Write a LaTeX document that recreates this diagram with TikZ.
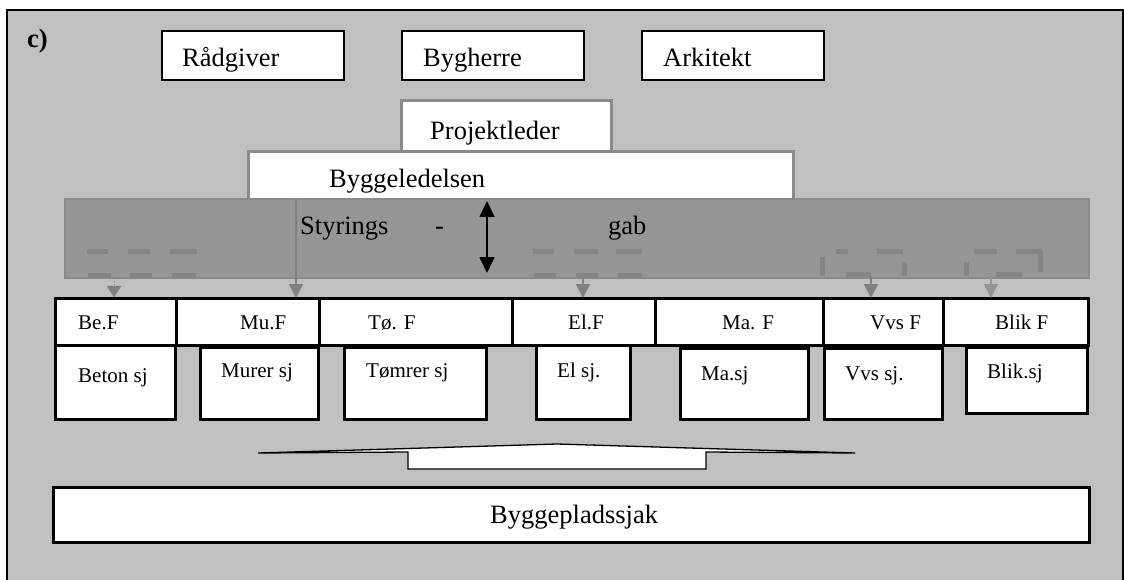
\documentclass[tikz,border=0pt]{standalone}
\usepackage{fontspec}
\setmainfont{Liberation Serif}
\usetikzlibrary{arrows.meta}
\definecolor{panel}{HTML}{C0C0C0}
\definecolor{gapfill}{HTML}{969696}
\definecolor{gapline}{HTML}{8A8A8A}
\definecolor{ghost}{HTML}{858585}
\definecolor{garrowc}{HTML}{808080}
\tikzset{
  big/.style={font=\fontsize{26.5}{30}\selectfont, inner sep=0pt, anchor=base west},
  small/.style={font=\fontsize{21}{24}\selectfont, inner sep=0pt, anchor=base west},
  tbox/.style={draw=black, line width=1.6pt, fill=white, inner sep=0pt, outer sep=0pt, anchor=north west},
  gbox/.style={draw=gapline, line width=3pt, fill=white, inner sep=0pt, outer sep=0pt, anchor=north west},
  fbox/.style={draw=black, line width=3pt, fill=white, inner sep=0pt, outer sep=0pt, anchor=north west},
  ghostdash/.style={draw=ghost, line width=5pt},
  garrow/.style={draw=garrowc, line width=1.5pt, -{Triangle[length=14pt,width=14pt]}},
}
\begin{document}
\begin{tikzpicture}[x=1pt,y=-1pt]
\useasboundingbox (0,0) rectangle (1124,580);
\clip (0,0) rectangle (1124,580);
% panel
\node[draw=black, line width=2pt, fill=panel, inner sep=0pt, outer sep=0pt, anchor=north west,
      minimum width=1116pt, minimum height=590pt] (panel) at (7,10) {};
\node[font=\fontsize{26.5}{30}\selectfont\bfseries, inner sep=0pt, anchor=base west] (lbl) at (27,48) {c)};
% top boxes
\node[tbox, minimum width=182pt, minimum height=49pt] (rad) at (162,31) {};
\node[big] (radt) at (182,67) {Rådgiver};
\node[tbox, minimum width=182pt, minimum height=49pt] (byg) at (402,31) {};
\node[big] (bygt) at (423,67) {Bygherre};
\node[tbox, minimum width=182pt, minimum height=49pt] (ark) at (642,31) {};
\node[big] (arkt) at (663,67) {Arkitekt};
% projektleder
\node[gbox, minimum width=210pt, minimum height=52pt] (pl) at (401,101) {};
\node[big] (plt) at (430,140) {Projektleder};
% byggeledelsen
\node[gbox, minimum width=545pt, minimum height=48pt] (bl) at (248,152) {};
\node[big] (blt) at (329,188) {Byggeledelsen};
% styrings-gab band
\node[draw=gapline, line width=2pt, fill=gapfill, inner sep=0pt, outer sep=0pt, anchor=north west,
      minimum width=1024pt, minimum height=79pt] (gap) at (65,199) {};
\node[big] (sty) at (300,234) {Styrings};
\node[big] (dash) at (435,234) {-};
\node[big] (gab) at (608,234) {gab};
% ghost dashes
\draw[ghostdash] (87,251)--(108,251) (128,251)--(150,251) (170,251)--(197,251);
\draw[ghostdash] (88,275)--(111,275) (130,275)--(152,275) (172,275)--(196,275);
\draw[ghostdash] (533,251)--(554,251) (574,251)--(598,251) (616,251)--(642,251);
\draw[ghostdash] (534,275)--(556,275) (576,275)--(598,275) (618,275)--(642,275);
\draw[ghostdash] (836,251)--(848,251) (877,251)--(903,251);
\draw[ghostdash] (822,257)--(822,276) (846,274)--(871,274) (904,262)--(904,276);
\draw[ghostdash] (974,251)--(997,251) (1016,251)--(1042,251);
\draw[ghostdash] (1040,251)--(1040,272) (966,262)--(966,276) (996,274)--(1022,274);
\draw[panel, line width=0pt, fill=panel] (65,279) rectangle (1090,296);
% double arrow
\coordinate (dat) at (487,201);
\coordinate (dab) at (487,273);
\draw[line width=1.8pt, {Triangle[length=16pt,width=15pt]}-{Triangle[length=16pt,width=15pt]}] (dat) -- (dab);
% F row
\node[fbox, minimum width=121pt, minimum height=47pt] (beF) at (55,298) {};
\node[fbox, minimum width=143pt, minimum height=47pt] (muF) at (176,298) {};
\node[fbox, minimum width=193pt, minimum height=47pt] (toF) at (319,298) {};
\node[fbox, minimum width=143pt, minimum height=47pt] (elF) at (512,298) {};
\node[fbox, minimum width=168pt, minimum height=47pt] (maF) at (655,298) {};
\node[fbox, minimum width=120pt, minimum height=47pt] (vvF) at (823,298) {};
\node[fbox, minimum width=145pt, minimum height=47pt] (blF) at (943,298) {};
\node[small] (beFt) at (78,329) {Be.F};
\node[small] (muFt) at (240,329) {Mu.F};
\node[small] (toFt) at (368,329) {Tø. F};
\node[small] (elFt) at (568,329) {El.F};
\node[small] (maFt) at (722,329) {Ma. F};
\node[small] (vvFt) at (870,329) {Vvs F};
\node[small] (blFt) at (995,329) {Blik F};
% sj row
\node[fbox, minimum width=120pt, minimum height=74pt] (besj) at (55,345) {};
\node[fbox, minimum width=118pt, minimum height=72pt] (musj) at (200,347) {};
\node[fbox, minimum width=142pt, minimum height=72pt] (tosj) at (344,347) {};
\node[fbox, minimum width=94pt, minimum height=74pt] (elsj) at (536,345) {};
\node[fbox, minimum width=128pt, minimum height=71pt] (masj) at (680,348) {};
\node[fbox, minimum width=118pt, minimum height=71pt] (vvsj) at (824,348) {};
\node[fbox, minimum width=121pt, minimum height=66pt] (blsj) at (966,347) {};
\node[small] (besjt) at (78,382) {Beton sj};
\node[small] (musjt) at (221,377) {Murer sj};
\node[small] (tosjt) at (366,377) {Tømrer sj};
\node[small] (elsjt) at (557,377) {El sj.};
\node[small] (masjt) at (701,380) {Ma.sj};
\node[small] (vvsjt) at (845,380) {Vvs sj.};
\node[small] (blsjt) at (987,378) {Blik.sj};
% redraw F row borders on top
\foreach \n in {beF,muF,toF,elF,maF,vvF,blF}{\draw[black, line width=3pt] (\n.north west) rectangle (\n.south east);}
% gray arrows
\coordinate (a1) at (114,278);
\coordinate (a2) at (296,199);
\coordinate (a3) at (583,278);
\coordinate (a4) at (871,276);
\coordinate (a5) at (991,276);
\draw[garrowc, line width=1pt, dotted] (a1) -- (114,286);
\draw[draw=garrowc, fill=garrowc] (107,286) -- (121,286) -- (114,297) -- cycle;
\draw[garrow] (a2) -- (a2 |- muF.north);
\draw[garrow] (a3) -- (a3 |- elF.north);
\draw[garrow] (a4) -- (a4 |- vvF.north);
\draw[garrow, draw=garrowc!85] (a5) -- (a5 |- blF.north);
% flat arrow shape
\draw[black, line width=1.3pt, fill=white, line join=miter]
  (258,453) -- (408,452) -- (408,469) -- (706,469) -- (706,452) -- (855,453) -- (557,444) -- cycle;
% byggepladssjak
\node[fbox, minimum width=1036pt, minimum height=55pt] (bps) at (53,487) {};
\node[big] (bpst) at (490,523) {Byggepladssjak};
\end{tikzpicture}
\end{document}
